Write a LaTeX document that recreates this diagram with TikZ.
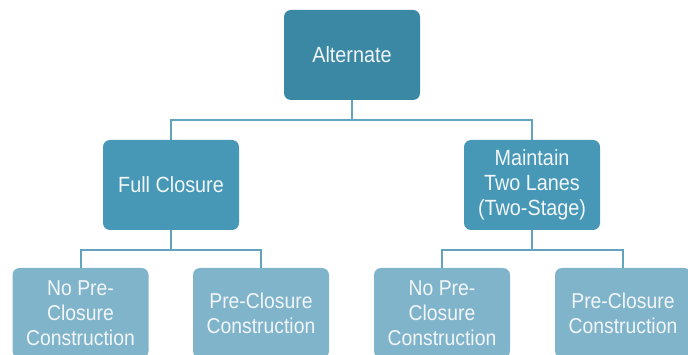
\documentclass[tikz,border=0pt]{standalone}
\usepackage{fontspec}
\setmainfont[FakeStretch=0.9]{Liberation Sans}
\definecolor{topc}{HTML}{3B88A5}
\definecolor{midc}{HTML}{4798B6}
\definecolor{botc}{HTML}{80B4CB}
\definecolor{linec}{HTML}{62A4BE}
\definecolor{txtc}{HTML}{F2F6F8}
\begin{document}
\begin{tikzpicture}[x=1pt,y=-1pt,
  boxbase/.style={rectangle,rounded corners=7pt,draw=none,text=txtc,align=center,
     minimum width=136pt,inner sep=0pt,font=\fontsize{22}{25}\selectfont},
  topbox/.style={boxbase,fill=topc,minimum height=90pt},
  midbox/.style={boxbase,fill=midc,minimum height=90pt},
  botbox/.style={boxbase,fill=botc,minimum height=90pt,font=\fontsize{21.5}{25}\selectfont},
  conn/.style={draw=linec,line width=2pt}]
\useasboundingbox (0,0) rectangle (688,355);
\clip (0,0) rectangle (688,355);
\node[topbox] (alt) at (352,55) {Alternate};
\node[midbox] (full) at (171,185) {Full Closure};
\node[midbox] (maint) at (532,185) {Maintain\\Two Lanes\\(Two-Stage)};
\node[botbox] (fnp) at (80.5,313) {No Pre-\\Closure\\Construction};
\node[botbox] (fpc) at (261,313) {Pre-Closure\\Construction};
\node[botbox] (mnp) at (442,313) {No Pre-\\Closure\\Construction};
\node[botbox] (mpc) at (623,313) {Pre-Closure\\Construction};
\draw[conn] (alt.south) -- ++(0,20) -| (full.north);
\draw[conn] (alt.south) -- ++(0,20) -| (maint.north);
\draw[conn] (full.south) -- ++(0,20) -| (fnp.north);
\draw[conn] (full.south) -- ++(0,20) -| (fpc.north);
\draw[conn] (maint.south) -- ++(0,20) -| (mnp.north);
\draw[conn] (maint.south) -- ++(0,20) -| (mpc.north);
\end{tikzpicture}
\end{document}
